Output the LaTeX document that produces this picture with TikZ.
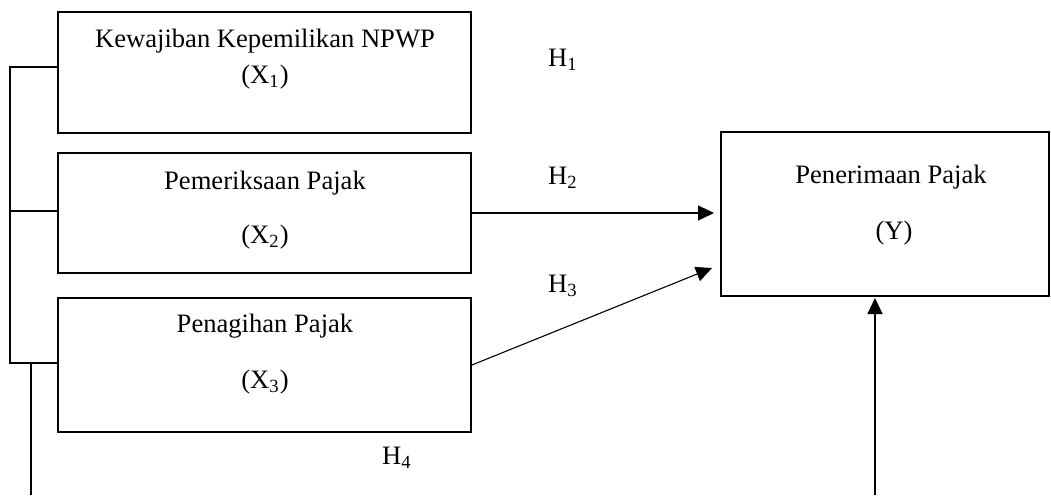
\documentclass[tikz,border=0pt]{standalone}
\usepackage{fontspec}
\setmainfont{Liberation Serif}
\usetikzlibrary{arrows.meta}
\begin{document}
\begin{tikzpicture}[x=0.5pt,y=-0.5pt,
  box/.style={draw, line width=0.9pt, rectangle, inner sep=0pt},
  txt/.style={inner sep=0pt, font=\fontsize{13.3}{15.5}\selectfont},
  conn/.style={line width=0.55pt},
  arr/.style={line width=0.55pt, -{Triangle[length=8pt,width=7.5pt]}}]
\useasboundingbox (0,0) rectangle (1051,495);
% boxes
\node[box, minimum width=206.5pt, minimum height=60.5pt] (x1) at (264.5,72.5) {};
\node[box, minimum width=206.5pt, minimum height=60pt] (x2) at (264.5,213) {};
\node[box, minimum width=206.5pt, minimum height=67pt] (x3) at (264.5,365) {};
\node[box, minimum width=164pt, minimum height=82pt] (y) at (885,214) {};
% texts
\node[txt] (t1a) at (265,41) {Kewajiban Kepemilikan NPWP};
\node[txt] (t1b) at (265,77) {(X\textsubscript{1})};
\node[txt] (t2a) at (265,183) {Pemeriksaan Pajak};
\node[txt] (t2b) at (265,237) {(X\textsubscript{2})};
\node[txt] (t3a) at (265,326) {Penagihan Pajak};
\node[txt] (t3b) at (265,382) {(X\textsubscript{3})};
\node[txt] (tya) at (891,177) {Penerimaan Pajak};
\node[txt] (tyb) at (894,233) {(Y)};
\node[txt] (h1) at (563,60) {H\textsubscript{1}};
\node[txt] (h2) at (563,178) {H\textsubscript{2}};
\node[txt] (h3) at (563,286) {H\textsubscript{3}};
\node[txt] (h4) at (397,458) {H\textsubscript{4}};
% coordinates
\coordinate (b1) at (10,67);
\coordinate (b2) at (10,211);
\coordinate (b3) at (10,363);
\coordinate (b4) at (31,363);
\coordinate (b5) at (31,495);
\coordinate (e2) at (714,213);
\coordinate (e3) at (712,268);
\coordinate (s4) at (875,495);
\coordinate (e4) at (875,298);
% bracket
\draw[conn] (b1 -| x1.west) -- (b1) -- (b3) -- (b3 -| x3.west);
\draw[conn] (b2) -- (b2 -| x2.west);
\draw[conn] (b4) -- (b5);
% arrows
\draw[arr] (x2.east) -- (e2);
\draw[arr] (x3.east) -- (e3);
\draw[arr] (s4) -- (e4);
\end{tikzpicture}
\end{document}
